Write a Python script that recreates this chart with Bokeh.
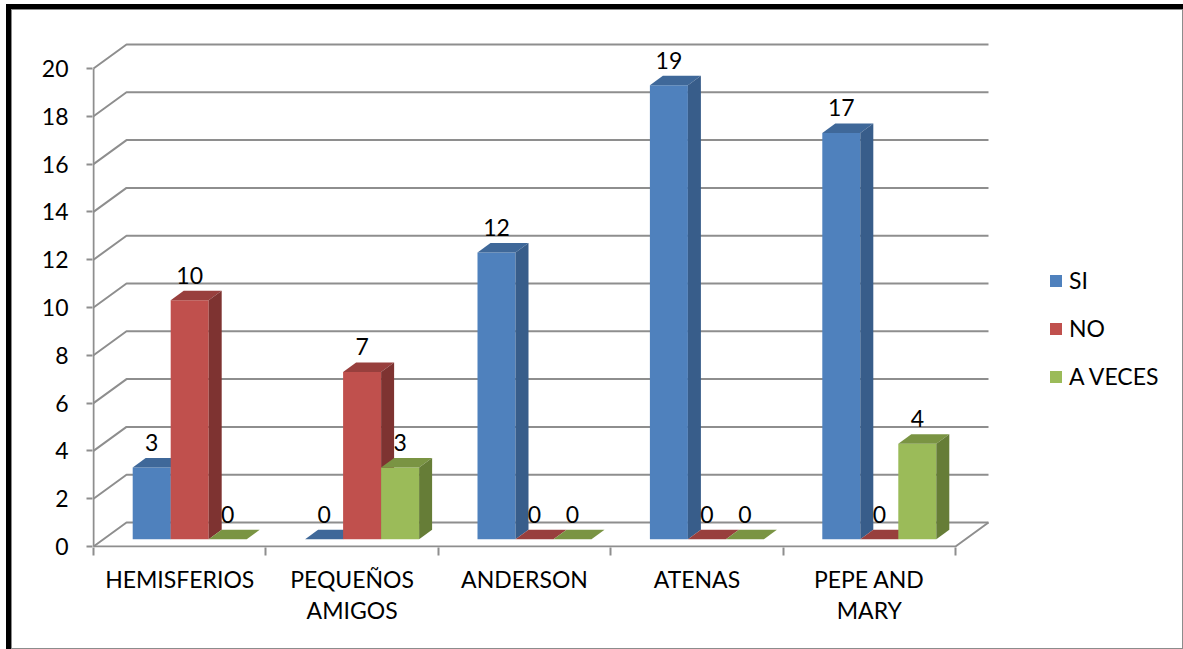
from bokeh.plotting import figure
from bokeh.models import Range1d, FixedTicker, Legend, LegendItem, ColumnDataSource
from bokeh.embed import file_html
from bokeh.resources import INLINE
from bokeh.core.properties import value

# ---------------- data ----------------
categories = ["HEMISFERIOS", "PEQUEÑOS\nAMIGOS", "ANDERSON", "ATENAS", "PEPE AND\nMARY"]
series_names = ["SI", "NO", "A VECES"]
si = [3, 0, 12, 19, 17]
no = [10, 7, 0, 0, 0]
a_veces = [0, 3, 0, 0, 4]
y_ticks = [0, 2, 4, 6, 8, 10, 12, 14, 16, 18, 20]

series_values = [si, no, a_veces]
front_colors = ["#4F81BD", "#C0504D", "#9BBB59"]
top_colors = ["#3F6899", "#983F3D", "#7A9443"]
side_colors = ["#385D8A", "#7E3331", "#667D37"]

# ---------------- geometry (pixel constants) ----------------
PX_X = 172.4          # pixels per category
PX_Y = 23.9           # pixels per value unit
WALL_DX, WALL_DY = 33 / PX_X, 24 / PX_Y
BAR_DX, BAR_DY = 13 / PX_X, 9.5 / PX_Y
BAR_W = 38 / PX_X
SHIFT_X = 10 / PX_X
SHIFT_Y = 7.25 / PX_Y
LABEL_GAP = 25 / PX_Y

FONT = "Lato"
FS = "23px"

W, H = 1183, 649
ML, MB, MT, MR = 92, 102, 13, 5
frame_w = W - ML - MR
frame_h = H - MB - MT
x0 = -1 / PX_X
y0 = -1 / PX_Y

p = figure(width=W, height=H, output_backend="svg", toolbar_location=None,
           x_range=Range1d(x0, x0 + frame_w / PX_X),
           y_range=Range1d(y0, y0 + frame_h / PX_Y),
           min_border_left=ML, min_border_bottom=MB, min_border_top=MT, min_border_right=MR,
           tools="")
p.outline_line_color = None
p.grid.visible = False
p.background_fill_alpha = 0
p.border_fill_alpha = 0

# chart-area frame with dark shadow on the left/top (drawn as CSS background)
p.styles = {
    "background-color": "white",
    "background-image": ", ".join(["linear-gradient(#000000,#000000)"] * 2 +
                                  ["linear-gradient(#8c8c8c,#8c8c8c)"] * 4),
    "background-position": "6px 4px, 6px 4px, 11px 9px, 11px 9px, 1182px 9px, 11px 648px",
    "background-size": "5px 645px, 1177px 5px, 1px 640px, 1172px 1px, 1px 640px, 1172px 1px",
    "background-repeat": "no-repeat",
}

ncat = len(categories)
GRID_C = "#8e8e8e"

# back wall gridlines + floor
gx, gy = [], []
for v in y_ticks:
    gx.append([0, WALL_DX, ncat + WALL_DX])
    gy.append([v, v + WALL_DY, v + WALL_DY])
gx.append([0, ncat, ncat + WALL_DX])
gy.append([0, 0, WALL_DY])
gx.append([0, 0])
gy.append([0, y_ticks[-1]])
p.multi_line(gx, gy, line_color=GRID_C, line_width=2)

# bars
legend_items = []
for j, (vals, name) in enumerate(zip(series_values, series_names)):
    lefts = [i + 0.5 - 1.5 * BAR_W + j * BAR_W + SHIFT_X for i in range(ncat)]
    rights = [l + BAR_W for l in lefts]
    bottoms = [SHIFT_Y] * ncat
    tops = [v + SHIFT_Y for v in vals]
    front = p.quad(left=lefts, right=rights, bottom=bottoms, top=tops,
                   fill_color=front_colors[j], line_color=None)
    txs = [[l, r, r + BAR_DX, l + BAR_DX] for l, r in zip(lefts, rights)]
    tys = [[t, t, t + BAR_DY, t + BAR_DY] for t in tops]
    p.patches(txs, tys, fill_color=top_colors[j], line_color=None)
    sxs = [[r, r + BAR_DX, r + BAR_DX, r] for r in rights]
    sys_ = [[b, b + BAR_DY, t + BAR_DY, t] for b, t in zip(bottoms, tops)]
    p.patches(sxs, sys_, fill_color=side_colors[j], line_color=None)
    centers = [(l + r) / 2 for l, r in zip(lefts, rights)]
    src = ColumnDataSource(dict(x=centers, y=[t + LABEL_GAP for t in tops],
                                t=[str(v) for v in vals]))
    p.text(x="x", y="y", text="t", source=src, text_align="center",
           text_baseline="alphabetic", text_font=value(FONT), text_font_size=FS,
           text_color="black")
    legend_items.append(LegendItem(label=name, renderers=[front]))

# axes
p.yaxis.ticker = FixedTicker(ticks=y_ticks)
p.yaxis.axis_line_color = None
p.yaxis.major_tick_in = 0
p.yaxis.major_tick_out = 6
p.yaxis.major_tick_line_color = GRID_C
p.yaxis.major_tick_line_width = 2
p.yaxis.minor_tick_line_color = None
p.yaxis.major_label_standoff = 18
p.yaxis.major_label_text_font = FONT
p.yaxis.major_label_text_font_size = FS
p.yaxis.major_label_text_color = "black"

centers_x = [i + 0.5 for i in range(ncat)]
p.xaxis.ticker = FixedTicker(ticks=centers_x, minor_ticks=list(range(ncat + 1)))
p.xaxis.major_label_overrides = {c: lab for c, lab in zip(centers_x, categories)}
p.xaxis.axis_line_color = None
p.xaxis.major_tick_line_color = None
p.xaxis.major_tick_in = 0
p.xaxis.major_tick_out = 0
p.xaxis.minor_tick_in = 0
p.xaxis.minor_tick_out = 8
p.xaxis.minor_tick_line_color = GRID_C
p.xaxis.minor_tick_line_width = 2
p.xaxis.major_label_standoff = 9
p.xaxis.major_label_text_font = FONT
p.xaxis.major_label_text_font_size = FS
p.xaxis.major_label_text_color = "black"
p.xaxis.major_label_text_line_height = 1.12

legend = Legend(items=legend_items, location=(956, 156), orientation="vertical",
                label_text_font=FONT, label_text_font_size=FS, label_text_color="black",
                glyph_width=15, glyph_height=15, label_standoff=6, padding=0,
                spacing=18, label_height=30, border_line_color=None,
                background_fill_alpha=0, margin=0)
p.add_layout(legend)

open("out.html", "w").write(file_html(p, INLINE))
